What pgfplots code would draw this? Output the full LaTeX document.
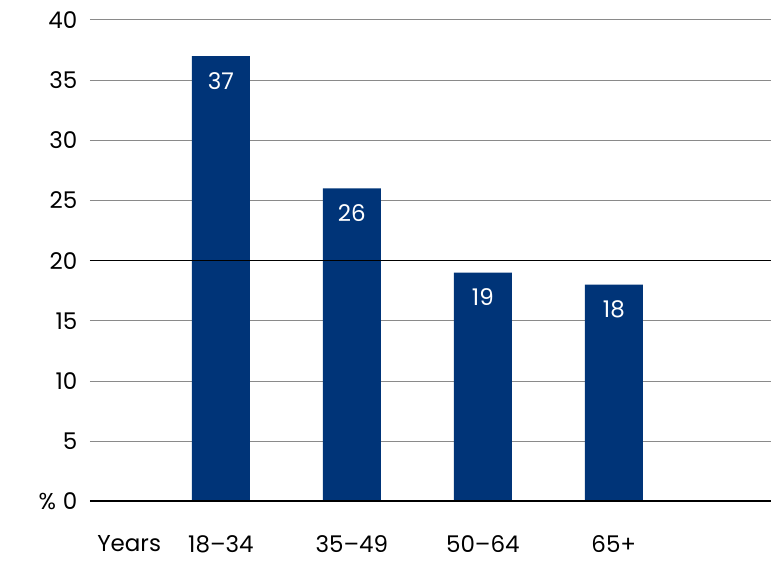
\documentclass[border=0pt]{standalone}
\usepackage{pgfplots}
\pgfplotsset{compat=1.18}
\usepackage{fontspec}
\setmainfont{Poppins}
\usetikzlibrary{calc}
\definecolor{navy}{HTML}{003478}
\definecolor{gridgray}{HTML}{8A8A8A}
\begin{document}
\begin{tikzpicture}
\begin{axis}[
  scale only axis,
  width=682pt, height=482pt,
  xmin=0, xmax=5.2,
  ymin=0, ymax=40,
  axis line style={draw=none},
  ytick={0,5,10,15,20,25,30,35,40},
  yticklabels={\%\hspace{7pt}0,5,10,15,20,25,30,35,40},
  xtick={0.3,1,2,3,4},
  xticklabels={Years,18--34,35--49,50--64,65+},
  major tick length=0pt,
  tick label style={font=\fontsize{23}{26}\selectfont, text=black},
  yticklabel style={anchor=east, xshift=-9pt},
  xticklabel style={anchor=north, yshift=-31pt},
  ymajorgrids,
  grid style={draw=gridgray, line width=1pt},
  /pgf/number format/assume math mode=true,
  clip=false,
]
\addplot[ybar, bar width=58pt, fill=navy, draw=none,
  nodes near coords,
  every node near coord/.append style={anchor=north, yshift=-14pt, text=white, font=\fontsize{23}{26}\selectfont, inner sep=2pt}]
  coordinates {(1,37) (2,26) (3,19) (4,18)};
\draw[black, line width=1pt] (axis cs:0,20) -- (axis cs:5.2,20);
\draw[black, line width=2pt] (axis cs:0,0) -- (axis cs:5.2,0);
\end{axis}
\path ($(current axis.south west)+(-90pt,-61pt)$) rectangle ($(current axis.north east)+(0,20pt)$);
\end{tikzpicture}
\end{document}
